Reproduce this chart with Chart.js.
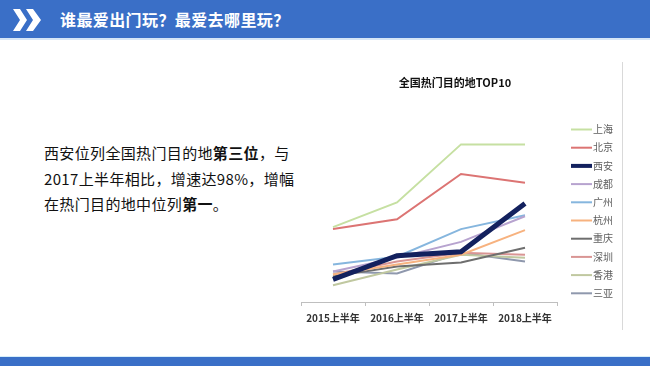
<!DOCTYPE html>
<html><head><meta charset="utf-8">
<script src="https://cdn.jsdelivr.net/npm/chart.js@4/dist/chart.umd.min.js"></script>
<style>
html,body{margin:0;padding:0;background:#fff;}
body{width:650px;height:366px;position:relative;overflow:hidden;font-family:"Noto Sans CJK SC","Noto Sans",sans-serif;}
#hdr{position:absolute;left:0;top:0;width:650px;height:38px;background:#3a6fc7;border-bottom:2px solid #d6e6f7;}
#hdr svg{position:absolute;left:13px;top:9px;}
#hdr .t{position:absolute;left:60px;top:8px;color:#fff;font-size:16px;font-weight:bold;line-height:22px;letter-spacing:0.4px;}
#ftr{position:absolute;left:0;top:356px;width:650px;height:10px;background:#3a6fc7;border-top:1px solid #d6eefa;}
#txt{position:absolute;left:44px;top:140px;font-size:15px;line-height:25.5px;color:#111;letter-spacing:0.35px;}
#txt b{font-weight:bold;}
#vline{position:absolute;left:622px;top:62px;width:1px;height:268px;background:#d9d9d9;}
#wrap{position:absolute;left:290px;top:60px;width:340px;height:272px;}
</style></head>
<body>
<div id="hdr">
<svg width="30" height="22" viewBox="0 0 30 22"><path d="M0 0 H7 L14 11 L7 22 H0 L7 11 Z" fill="#fff"/><path d="M13 0 H20 L28 11 L20 22 H13 L20 11 Z" fill="#fff"/></svg>
<div class="t">谁最爱出门玩？最爱去哪里玩？</div>
</div>
<div id="txt">西安位列全国热门目的地<b>第三位</b>，与<br>2017上半年相比，增速达98%，增幅<br>在热门目的地中位列<b>第一</b>。</div>
<div id="vline"></div>
<div id="wrap"><canvas id="c" width="340" height="272"></canvas></div>
<div id="ftr"></div>
<script>
const categories = ['2015上半年','2016上半年','2017上半年','2018上半年'];
const chartTitle = '全国热门目的地TOP10';
const cityNames = ['上海','北京','西安','成都','广州','杭州','重庆','深圳','香港','三亚'];
const shanghai = [76, 101, 160, 160];
const beijing  = [74, 84, 130, 121];
const xian     = [23, 47, 51, 100];
const chengdu  = [31, 45, 61, 87];
const guangzhou= [38, 46, 74, 88];
const hangzhou = [28, 38, 48, 73];
const chongqing= [26, 36, 40, 55];
const shenzhen = [28, 41, 50, 48];
const hongkong = [17, 33, 48, 45];
const sanya    = [31, 29, 50, 41];
const seriesValues = [shanghai, beijing, xian, chengdu, guangzhou, hangzhou, chongqing, shenzhen, hongkong, sanya];
const colors = ['#c6e0a2','#dc7473','#13215e','#b7a3cf','#86b6de','#f7b27f','#6e6e6e','#d99594','#c0c8a0','#8f98ad'];
const widths = [2,2,5,2,2,2,2,2,2,2];

const datasets = cityNames.map((n,i)=>({
  label:n, data:seriesValues[i], borderColor:colors[i], backgroundColor:colors[i],
  borderWidth:widths[i], pointRadius:0, tension:0, fill:false,
  order: i===2 ? 0 : 1
}));

const legendPlugin = {
  id:'sideLegend',
  afterDraw(chart){
    const ctx = chart.ctx;
    ctx.save();
    ctx.font = 'bold 11px "Noto Sans CJK SC", sans-serif';
    ctx.fillStyle = '#111';
    ctx.textAlign = 'center';
    ctx.textBaseline = 'middle';
    ctx.fillText(chartTitle, 165, 23);
    ctx.textAlign = 'left';
    ctx.font = '10px "Noto Sans CJK SC", sans-serif';
    ctx.fillStyle = '#606060';
    chart.data.datasets.forEach((ds,i)=>{
      const y = 69.5 + i*18.2;
      ctx.strokeStyle = ds.borderColor;
      ctx.lineWidth = i===2 ? 4 : 2;
      ctx.beginPath(); ctx.moveTo(281,y); ctx.lineTo(302,y); ctx.stroke();
      ctx.fillText(ds.label, 303, y);
    });
    ctx.restore();
  }
};

new Chart(document.getElementById('c'),{
  type:'line',
  data:{labels:categories, datasets},
  options:{
    responsive:false, animation:false, devicePixelRatio:1,
    layout:{padding:{left:11,right:73,top:43,bottom:2}},
    plugins:{
      legend:{display:false}, tooltip:{enabled:false}, title:{display:false}
    },
    scales:{
      x:{offset:true,
        grid:{display:true,offset:true,drawOnChartArea:false,tickLength:4,color:'#bfbfbf'},
        border:{display:true,color:'#bfbfbf'},
        ticks:{padding:6,color:'#333',font:{size:10,weight:'bold',family:'"Noto Sans CJK SC", sans-serif'}}
      },
      y:{display:false,min:0,max:202}
    }
  },
  plugins:[legendPlugin]
});
</script>
</body></html>
